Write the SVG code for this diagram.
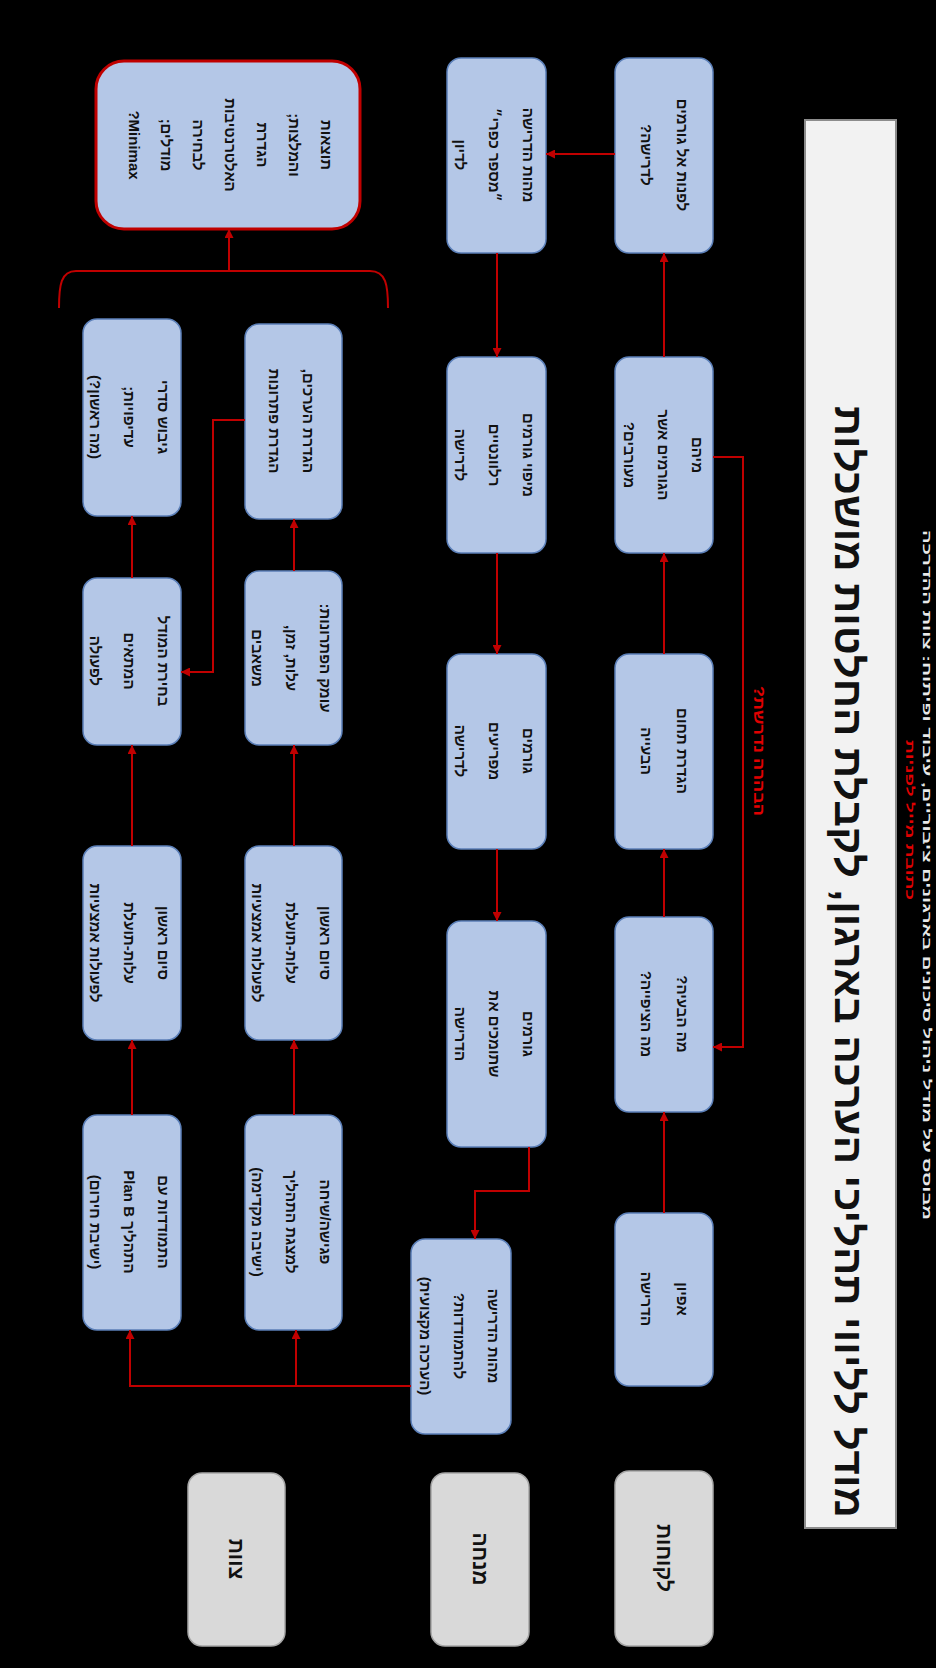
<svg xmlns="http://www.w3.org/2000/svg" width="936" height="1668" viewBox="0 0 936 1668">
<style>
.bx{fill:#b4c7e7;stroke:#5b7fb8;stroke-width:1.5}
.gr{fill:#d9d9d9;stroke:#a6a6a6;stroke-width:1.5}
.rb{fill:#b4c7e7;stroke:#c00000;stroke-width:3}
.t{font-family:"Liberation Sans","DejaVu Sans",sans-serif;font-weight:bold;font-size:15px;fill:#111;text-anchor:middle}
.gt{font-size:21px}
.ln{fill:none;stroke:#c00000;stroke-width:2}
.lbl{font-family:"Liberation Sans","DejaVu Sans",sans-serif;font-weight:bold;font-size:15px;fill:#e00000;text-anchor:middle}
</style>
<defs>
<marker id="ar" viewBox="0 0 10 10" refX="10" refY="5" markerWidth="4.5" markerHeight="4.5" orient="auto"><path d="M0,0L10,5L0,10z" fill="#c00000"/></marker>
</defs>
<rect width="936" height="1668" fill="#000"/>
<g transform="translate(936,0) rotate(90)">
<g id="title">
<rect x="120" y="40" width="1408" height="91" fill="#f2f2f2" stroke="#8c8c8c" stroke-width="2"/>
<text x="1518" y="101" direction="rtl" font-family="Liberation Sans, DejaVu Sans, sans-serif" font-weight="bold" font-size="40" fill="#111" textLength="1112" lengthAdjust="spacingAndGlyphs">מודל לליווי תהליכי הערכה בארגון, לקבלת החלטות מושכלות</text>
</g>
<g id="credits">
<text x="1220" y="13" direction="rtl" font-family="Liberation Sans, DejaVu Sans, sans-serif" font-weight="bold" font-size="11" fill="#e8e8e8" textLength="690" lengthAdjust="spacingAndGlyphs">מבוסס על מודל ניהול סיכונים בארגונים ציבוריים, עיבוד ופיתוח: צוות ההדרכה</text>
<text x="900" y="30" direction="rtl" font-family="Liberation Sans, DejaVu Sans, sans-serif" font-weight="bold" font-size="11" fill="#e00000" textLength="160" lengthAdjust="spacingAndGlyphs">כתובת מייל לפניות</text>
</g>
<g id="lane-a-label"><rect class="gr" x="1471" y="223" width="175" height="98" rx="14"/><text class="t gt" x="1558" y="279" direction="rtl">לקוחות</text></g>
<g id="lane-b-label"><rect class="gr" x="1473" y="407" width="173" height="98" rx="14"/><text class="t gt" x="1559" y="463" direction="rtl">מנחה</text></g>
<g id="lane-c-label"><rect class="gr" x="1473" y="651" width="173" height="97" rx="14"/><text class="t gt" x="1559" y="707" direction="rtl">צוות</text></g>

<g id="a5"><rect class="bx" x="1213" y="223" width="173" height="98" rx="14"/><text class="t" direction="rtl"><tspan x="1299" y="259">אפיון</tspan><tspan x="1299" y="295">הדרישה</tspan></text></g>
<g id="a4"><rect class="bx" x="917" y="223" width="195" height="98" rx="14"/><text class="t" direction="rtl"><tspan x="1014" y="259">מה הבעיה?</tspan><tspan x="1014" y="295">מה הציפייה?</tspan></text></g>
<g id="a3"><rect class="bx" x="654" y="223" width="195" height="98" rx="14"/><text class="t" direction="rtl"><tspan x="751" y="259">הגדרת תחום</tspan><tspan x="751" y="295">הבעייה</tspan></text></g>
<g id="a2"><rect class="bx" x="357" y="223" width="196" height="98" rx="14"/><text class="t" direction="rtl"><tspan x="455" y="244">מיהם</tspan><tspan x="455" y="278">הגורמים אשר</tspan><tspan x="455" y="312">מעורבים?</tspan></text></g>
<g id="a1"><rect class="bx" x="58" y="223" width="195" height="98" rx="14"/><text class="t" direction="rtl"><tspan x="155" y="259">לפנות אל גורמים</tspan><tspan x="155" y="295">לדרישה?</tspan></text></g>

<g id="b1"><rect class="bx" x="58" y="390" width="195" height="99" rx="14"/><text class="t" direction="rtl"><tspan x="155" y="413">מהות הדרישה</tspan><tspan x="155" y="447">״מספר כפרי״</tspan><tspan x="155" y="481">לדיון</tspan></text></g>
<g id="b2"><rect class="bx" x="357" y="390" width="196" height="99" rx="14"/><text class="t" direction="rtl"><tspan x="455" y="413">מיפוי גורמים</tspan><tspan x="455" y="447">רלוונטיים</tspan><tspan x="455" y="481">לדרישה</tspan></text></g>
<g id="b3"><rect class="bx" x="654" y="390" width="195" height="99" rx="14"/><text class="t" direction="rtl"><tspan x="751" y="413">גורמים</tspan><tspan x="751" y="447">מפריעים</tspan><tspan x="751" y="481">לדרישה</tspan></text></g>
<g id="b4"><rect class="bx" x="921" y="390" width="226" height="99" rx="14"/><text class="t" direction="rtl"><tspan x="1034" y="413">גורמים</tspan><tspan x="1034" y="447">שתומכים את</tspan><tspan x="1034" y="481">הדרישה</tspan></text></g>
<g id="b5"><rect class="bx" x="1239" y="425" width="195" height="100" rx="14"/><text class="t" direction="rtl"><tspan x="1336" y="448">מהות הדרישה</tspan><tspan x="1336" y="482">להתמודדות?</tspan><tspan x="1336" y="516">(הערכה מקצועית)</tspan></text></g>

<g id="c1-1"><rect class="bx" x="324" y="594" width="195" height="97" rx="14"/><text class="t" direction="rtl"><tspan x="421" y="633">הגדרת הערכים,</tspan><tspan x="421" y="667">הגדרת פתרונות</tspan></text></g>
<g id="c1-2"><rect class="bx" x="571" y="594" width="174" height="97" rx="14"/><text class="t" direction="rtl"><tspan x="658" y="616">עומק הפתרונות:</tspan><tspan x="658" y="650">עלות, זמן,</tspan><tspan x="658" y="684">משאבים</tspan></text></g>
<g id="c1-3"><rect class="bx" x="846" y="594" width="194" height="97" rx="14"/><text class="t" direction="rtl"><tspan x="943" y="616">סיום ראשון</tspan><tspan x="943" y="650">עלות-תועלת</tspan><tspan x="943" y="684">לפעולות אמצעיות</tspan></text></g>
<g id="c1-4"><rect class="bx" x="1115" y="594" width="215" height="97" rx="14"/><text class="t" direction="rtl"><tspan x="1222" y="616">פגישה/שיחה</tspan><tspan x="1222" y="650">למצגת התהליך</tspan><tspan x="1222" y="684">(ישיבה מקדימה)</tspan></text></g>

<g id="c2-1"><rect class="bx" x="319" y="755" width="197" height="98" rx="14"/><text class="t" direction="rtl"><tspan x="417" y="778">גיבוש סדרי</tspan><tspan x="417" y="812">עדיפויות;</tspan><tspan x="417" y="846">(מה ראשון?)</tspan></text></g>
<g id="c2-2"><rect class="bx" x="578" y="755" width="167" height="98" rx="14"/><text class="t" direction="rtl"><tspan x="661" y="778">בחירת המודל</tspan><tspan x="661" y="812">המתאים</tspan><tspan x="661" y="846">לפעולה</tspan></text></g>
<g id="c2-3"><rect class="bx" x="846" y="755" width="194" height="98" rx="14"/><text class="t" direction="rtl"><tspan x="943" y="778">סיום ראשון</tspan><tspan x="943" y="812">עלות-תועלת</tspan><tspan x="943" y="846">לפעולות אמצעיות</tspan></text></g>
<g id="c2-4"><rect class="bx" x="1115" y="755" width="215" height="98" rx="14"/><text class="t" direction="rtl"><tspan x="1222" y="778">התמודדות עם</tspan><tspan x="1222" y="812">התהליך Plan B</tspan><tspan x="1222" y="846">(ישיבת חירום)</tspan></text></g>

<g id="result"><rect class="rb" x="61" y="576" width="168" height="264" rx="28"/><text class="t" direction="rtl"><tspan x="145" y="615">תוצאות</tspan><tspan x="145" y="647">והמלצות;</tspan><tspan x="145" y="679">הגדרת</tspan><tspan x="145" y="711">האלטרנטיבות</tspan><tspan x="145" y="743">לבחירה</tspan><tspan x="145" y="775">מודלים;</tspan><tspan x="145" y="807">Minimax?</tspan></text></g>

<g id="connectors">
<path class="ln" d="M1213,272L1112,272" marker-end="url(#ar)"/>
<path class="ln" d="M917,272L849,272" marker-end="url(#ar)"/>
<path class="ln" d="M654,272L553,272" marker-end="url(#ar)"/>
<path class="ln" d="M357,272L253,272" marker-end="url(#ar)"/>
<path class="ln" d="M154,321L154,390" marker-end="url(#ar)"/>
<path class="ln" d="M253,439L357,439" marker-end="url(#ar)"/>
<path class="ln" d="M553,439L654,439" marker-end="url(#ar)"/>
<path class="ln" d="M849,439L921,439" marker-end="url(#ar)"/>
<path class="ln" d="M1147,407L1191,407L1191,461L1239,461" marker-end="url(#ar)"/>
<path class="ln" d="M457,223L457,193L1047,193L1047,223" marker-end="url(#ar)"/>
<path class="ln" d="M1386,525L1386,806L1330,806" marker-end="url(#ar)"/>
<path class="ln" d="M1386,640L1330,640" marker-end="url(#ar)"/>
<path class="ln" d="M1115,642L1040,642" marker-end="url(#ar)"/>
<path class="ln" d="M846,642L745,642" marker-end="url(#ar)"/>
<path class="ln" d="M571,642L519,642" marker-end="url(#ar)"/>
<path class="ln" d="M1115,804L1040,804" marker-end="url(#ar)"/>
<path class="ln" d="M846,804L745,804" marker-end="url(#ar)"/>
<path class="ln" d="M578,804L516,804" marker-end="url(#ar)"/>
<path class="ln" d="M420,691L420,723L672,723L672,755" marker-end="url(#ar)"/>
<path class="ln" d="M308,548C285,548 271,550 271,566L271,860C271,875 285,877 308,877"/>
<path class="ln" d="M271,707L229,707" marker-end="url(#ar)"/>
<text class="lbl" x="751" y="182" direction="rtl" textLength="130" lengthAdjust="spacingAndGlyphs">הבהרה נדרשת?</text>
</g>
</g>
</svg>
